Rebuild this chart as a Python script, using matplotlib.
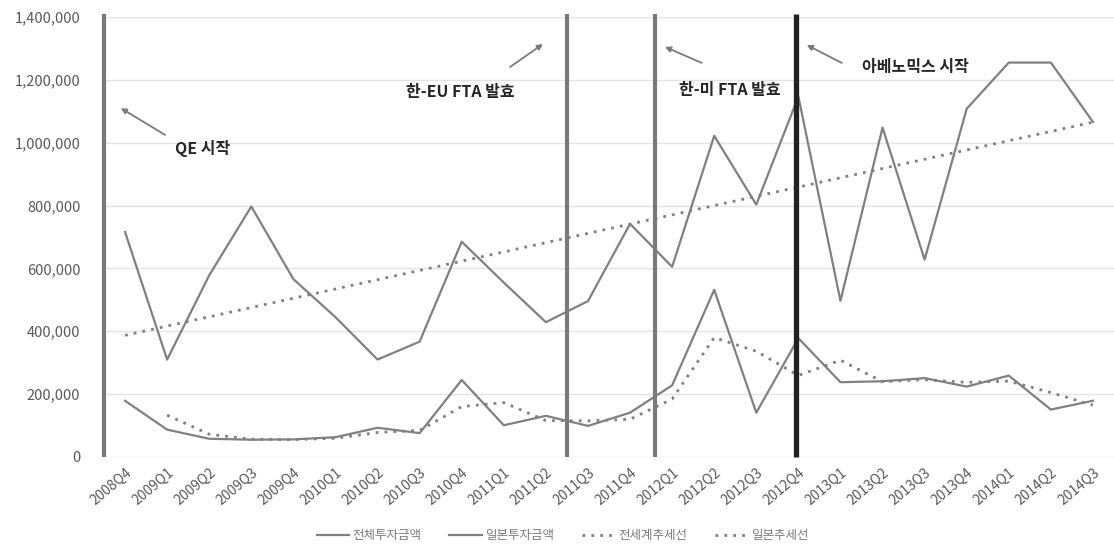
import numpy as np
import pandas as pd
import matplotlib
matplotlib.use("Agg")
import matplotlib.pyplot as plt
from matplotlib.ticker import FuncFormatter
from matplotlib.lines import Line2D

plt.rcParams["font.family"] = ["Noto Sans CJK KR", "DejaVu Sans"]

quarters = ["2008Q4",
            "2009Q1", "2009Q2", "2009Q3", "2009Q4",
            "2010Q1", "2010Q2", "2010Q3", "2010Q4",
            "2011Q1", "2011Q2", "2011Q3", "2011Q4",
            "2012Q1", "2012Q2", "2012Q3", "2012Q4",
            "2013Q1", "2013Q2", "2013Q3", "2013Q4",
            "2014Q1", "2014Q2", "2014Q3"]
# 전체 해외투자 금액 / 일본 투자 금액
total_invest = [716000, 310000, 578000, 797000, 566000, 445000, 310000, 367000,
                685000, 555000, 429000, 496000, 742000, 605000, 1022000, 803000,
                1147000, 497000, 1048000, 628000, 1108000, 1255000, 1255000, 1066000]
japan_invest = [179000, 87000, 58000, 55000, 56000, 63000, 93000, 76000,
                245000, 101000, 131000, 99000, 141000, 228000, 532000, 141000,
                378000, 238000, 241000, 251000, 224000, 259000, 151000, 179000]

# 이벤트 세로선 (분기 사이 위치)
events = [("QE", -0.5, "#7a7a7a", 3.0), ("EU", 10.5, "#7a7a7a", 3.0),
          ("US", 12.6, "#7a7a7a", 3.0), ("ABE", 15.95, "#222222", 3.8)]

x = np.arange(len(quarters))
trend_total = np.polyval(np.polyfit(x, total_invest, 1), x)        # 선형 추세선
trend_japan = pd.Series(japan_invest).rolling(2).mean().values      # 2구간 이동평균

fig = plt.figure(figsize=(11.14, 5.48), dpi=100)
ax = fig.add_axes([104/1114, 1 - 457/548, 1 - 104/1114, (457 - 17)/548])

line_c = "#808080"
ax.plot(x, total_invest, color=line_c, lw=1.6, zorder=3)
ax.plot(x, japan_invest, color=line_c, lw=1.6, zorder=3)
ax.plot(x, trend_total, color=line_c, lw=2.0, ls=(0, (1, 2.2)), zorder=2)
ax.plot(x, trend_japan, color=line_c, lw=2.0, ls=(0, (1, 2.2)), zorder=2)

for name, pos, c, w in events:
    ax.plot([pos, pos], [0, 1410000], color=c, lw=w, solid_capstyle="butt",
            clip_on=False, zorder=4)

ax.set_xlim(-0.5, 23.5)
ax.set_ylim(0, 1400000)
ax.set_yticks(np.arange(0, 1400001, 200000))
ax.yaxis.set_major_formatter(FuncFormatter(lambda v, p: f"{v:,.0f}"))
ax.set_xticks(x)
ax.set_xticklabels(quarters, rotation=40, ha="right", rotation_mode="anchor")
ax.tick_params(axis="y", length=0, pad=17, labelsize=10.5, labelcolor="#595959")
ax.tick_params(axis="x", length=0, pad=6, labelsize=10, labelcolor="#595959")
ax.grid(axis="y", color="#e3e3e3", lw=1)
ax.set_axisbelow(True)
for s in ax.spines.values():
    s.set_visible(False)

arrow = dict(arrowstyle="-|>", color="#7a7a7a", lw=1.3, mutation_scale=8, shrinkA=0, shrinkB=0)
notes = [("QE 시작", (1.85, 983000), (0.95, 1025000), (-0.1, 1110000)),
         ("한-EU FTA 발효", (7.98, 1161000), (9.15, 1241000), (9.93, 1314000)),
         ("한-미 FTA 발효", (14.37, 1168000), (13.7, 1254000), (12.83, 1305000)),
         ("아베노믹스 시작", (18.79, 1241000), (17.03, 1254000), (16.2, 1311000))]
for txt, tpos, tail, head in notes:
    ax.text(tpos[0], tpos[1], txt, ha="center", va="center", fontsize=11.5,
            fontweight="bold", color="#262626", zorder=5)
    ax.annotate("", xy=head, xytext=tail, arrowprops=arrow, zorder=5)

handles = [Line2D([], [], color=line_c, lw=1.6),
           Line2D([], [], color=line_c, lw=1.6),
           Line2D([], [], color=line_c, lw=2.0, ls=(0, (1, 2.2))),
           Line2D([], [], color=line_c, lw=2.0, ls=(0, (1, 2.2)))]
labels = ["전체투자금액", "일본투자금액", "전세계추세선", "일본추세선"]
fig.legend(handles, labels, loc="center", bbox_to_anchor=(0.505, 1 - 536/548), ncol=4,
           frameon=False, fontsize=9, labelcolor="#7a7a7a", handlelength=2.6,
           handletextpad=0.3, columnspacing=2.2)

fig.savefig("out.png", dpi=100)
